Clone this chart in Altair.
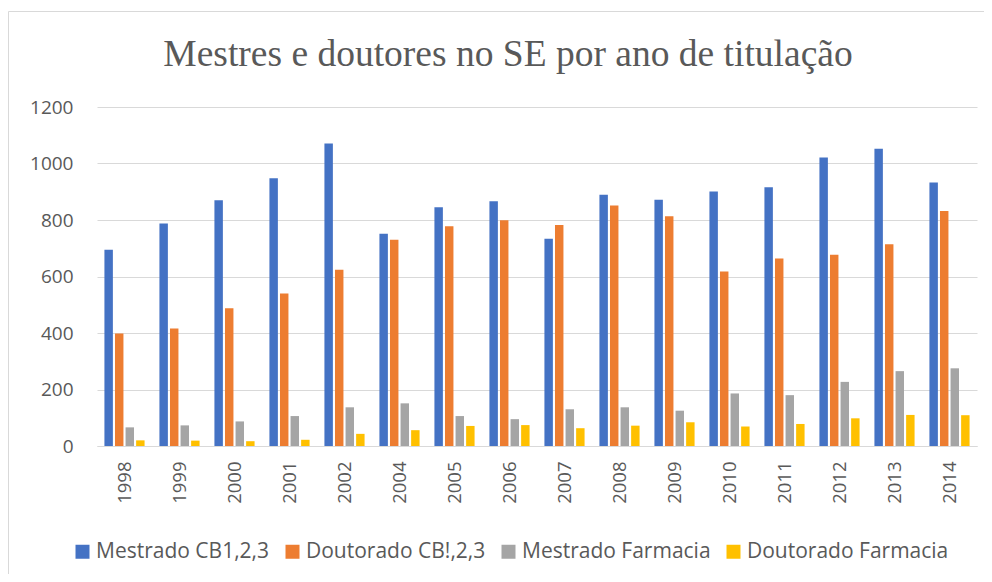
import altair as alt
import pandas as pd

years = ["1998", "1999", "2000", "2001", "2002", "2004", "2005", "2006",
         "2007", "2008", "2009", "2010", "2011", "2012", "2013", "2014"]
series_names = ["Mestrado CB1,2,3", "Doutorado CB!,2,3", "Mestrado Farmacia", "Doutorado Farmacia"]
series_colors = ["#4472C4", "#ED7D31", "#A5A5A5", "#FFC000"]
mestrado_cb = [695, 788, 870, 948, 1071, 751, 845, 866, 734, 889, 872, 901, 916, 1021, 1052, 933]
doutorado_cb = [398, 416, 488, 540, 624, 730, 778, 799, 782, 851, 813, 618, 664, 677, 714, 832]
mestrado_farm = [66, 73, 87, 106, 137, 151, 106, 95, 130, 137, 125, 186, 180, 227, 265, 275]
doutorado_farm = [20, 19, 17, 22, 43, 56, 71, 74, 63, 72, 84, 69, 78, 98, 110, 109]
y_ticks = [0, 200, 400, 600, 800, 1000, 1200]
title_text = "Mestres e doutores no SE por ano de titulação"

rows = []
for name, vals in zip(series_names, [mestrado_cb, doutorado_cb, mestrado_farm, doutorado_farm]):
    for yr, v in zip(years, vals):
        rows.append({"ano": yr, "serie": name, "valor": v})
df = pd.DataFrame(rows)

TXT = "#595959"
GRID = "#d9d9d9"

frame = alt.Chart(pd.DataFrame({"k": [0]})).mark_rect(
    fill="transparent", stroke=GRID, strokeWidth=1, clip=False
).encode(
    x=alt.value(-88.5), x2=alt.value(1000), y=alt.value(-95.5), y2=alt.value(700)
)

title = alt.Chart(pd.DataFrame({"t": [title_text]})).mark_text(
    font="Liberation Serif", fontSize=37.5, color=TXT, align="center",
    baseline="alphabetic", clip=False
).encode(
    text="t:N", x=alt.value(411), y=alt.value(-41)
)

bars = alt.Chart(df).mark_bar().encode(
    x=alt.X("ano:N", sort=years, title=None,
            scale=alt.Scale(paddingInner=0.27, paddingOuter=0.135),
            axis=alt.Axis(labelAngle=-90, labelFont="Open Sans", labelFontSize=18.5,
                          labelColor=TXT, labelPadding=15, ticks=False,
                          domainColor=GRID, domainWidth=1)),
    xOffset=alt.XOffset("serie:N", sort=series_names,
                        scale=alt.Scale(paddingInner=0.2, paddingOuter=0)),
    y=alt.Y("valor:Q", title=None,
            scale=alt.Scale(domain=[0, 1200], nice=False),
            axis=alt.Axis(values=y_ticks, format="d", labelFont="Open Sans", labelFontSize=19,
                          labelColor=TXT, labelPadding=24, ticks=False, domain=False,
                          gridColor=GRID, gridWidth=1)),
    color=alt.Color("serie:N", sort=series_names,
                    scale=alt.Scale(domain=series_names, range=series_colors),
                    legend=alt.Legend(title=None, orient="none", direction="horizontal",
                                      columns=4, legendX=-25, legendY=434,
                                      symbolType="square", symbolSize=196,
                                      symbolStrokeWidth=0,
                                      labelFont="Open Sans", labelFontSize=21,
                                      labelColor=TXT, labelOffset=3,
                                      columnPadding=12, labelLimit=400)),
)

chart = alt.layer(frame, title, bars).properties(
    width=880, height=339,
    background="white",
    autosize=alt.AutoSizeParams(type="none"),
    padding={"left": 89, "top": 99, "right": 7, "bottom": 128},
).configure_view(stroke="transparent")

chart.save("out.html", embed_options={"renderer": "svg", "actions": False})
